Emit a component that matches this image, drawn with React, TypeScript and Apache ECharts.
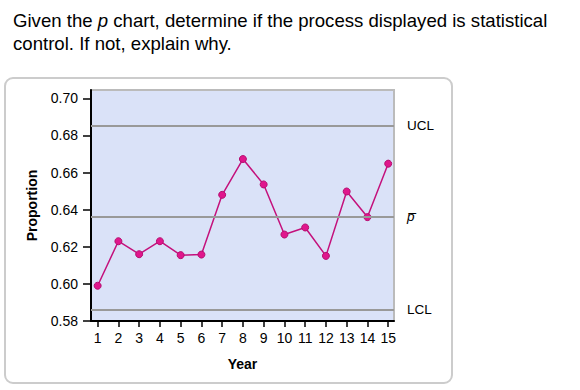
import React, { useEffect, useRef } from "react";
import * as echarts from "echarts";

const years = [1, 2, 3, 4, 5, 6, 7, 8, 9, 10, 11, 12, 13, 14, 15];
const proportions = [0.599, 0.623, 0.616, 0.623, 0.6155, 0.6158, 0.648, 0.6673, 0.6536, 0.6266, 0.6304, 0.6151, 0.6498, 0.636, 0.6648];
const yTicks = [0.58, 0.6, 0.62, 0.64, 0.66, 0.68, 0.7];
const controlLines = [
  { name: "UCL", value: 0.6851 },
  { name: "p\u0305", value: 0.6362 },
  { name: "LCL", value: 0.5863 },
];

const FONT = "'Liberation Sans', Arial, Helvetica, sans-serif";

export default function App() {
  const ref = useRef<HTMLDivElement>(null);
  useEffect(() => {
    if (!ref.current) return;
    const chart = echarts.init(ref.current, undefined, { renderer: "svg" });
    chart.setOption({
      animation: false,
      textStyle: { fontFamily: FONT },
      title: {
        left: 8,
        top: 4,
        text:
          "{a|Given the }{i|p}{a| chart, determine if the process displayed is statistical}\n{a|control. If not, explain why.}",
        textStyle: {
          fontWeight: "normal",
          rich: {
            a: { fontSize: 18.6, fontFamily: FONT, color: "#000", fontWeight: "normal", lineHeight: 23 },
            i: { fontSize: 18.6, fontFamily: FONT, color: "#000", fontWeight: "normal", fontStyle: "italic", lineHeight: 23 },
          },
        },
      },
      graphic: [
        {
          type: "rect",
          shape: { x: 5, y: 78, width: 447, height: 305, r: 8 },
          style: { fill: "none", stroke: "#cccccc", lineWidth: 2 },
          z: -1,
        },
      ],
      grid: {
        left: 91,
        right: 186,
        top: 90,
        bottom: 69,
        show: true,
        backgroundColor: "#dae2f8",
        borderColor: "#bbbbbb",
        borderWidth: 2,
      },
      xAxis: {
        type: "value",
        min: 0.68,
        max: 15.28,
        name: "Year",
        nameLocation: "middle",
        nameGap: 36,
        nameTextStyle: { fontSize: 14, fontWeight: "bold", color: "#000", fontFamily: FONT },
        axisLine: { show: true, lineStyle: { color: "#000", width: 2 } },
        axisTick: { show: true, length: 6, lineStyle: { color: "#000", width: 1.5 }, customValues: years },
        axisLabel: { fontSize: 14, color: "#000", margin: 10, customValues: years, fontFamily: FONT },
        splitLine: { show: false },
      },
      yAxis: {
        type: "value",
        min: 0.58,
        max: 0.7045,
        name: "Proportion",
        nameLocation: "middle",
        nameGap: 52,
        nameTextStyle: { fontSize: 14, fontWeight: "bold", color: "#000", fontFamily: FONT },
        axisLine: { show: true, lineStyle: { color: "#000", width: 2 } },
        axisTick: { show: true, length: 8, lineStyle: { color: "#000", width: 1.5 }, customValues: yTicks },
        axisLabel: {
          fontSize: 14,
          color: "#000",
          margin: 13,
          customValues: yTicks,
          fontFamily: FONT,
          formatter: (v: number) => v.toFixed(2),
        },
        splitLine: { show: false },
      },
      series: [
        {
          type: "line",
          data: years.map((y, i) => [y, proportions[i]]),
          symbol: "circle",
          symbolSize: 7,
          lineStyle: { color: "#c4117c", width: 1.5 },
          itemStyle: { color: "#e0168c", borderColor: "#b50e70", borderWidth: 1 },
          markLine: {
            silent: true,
            symbol: "none",
            precision: 4,
            lineStyle: { color: "#999999", width: 2, type: "solid" },
            label: {
              show: true,
              position: "end",
              distance: 13,
              fontSize: 13.5,
              color: "#000",
              fontFamily: FONT,
              formatter: (p: any) => p.name,
            },
            data: controlLines.map((c) => ({
              name: c.name,
              yAxis: c.value,
              label: c.name === "p\u0305" ? { fontStyle: "italic" } : {},
            })),
          },
          z: 3,
        },
      ],
    });
    return () => chart.dispose();
  }, []);
  return <div ref={ref} style={{ position: "fixed", left: 0, top: 0, width: 580, height: 390, background: "#fff" }} />;
}
